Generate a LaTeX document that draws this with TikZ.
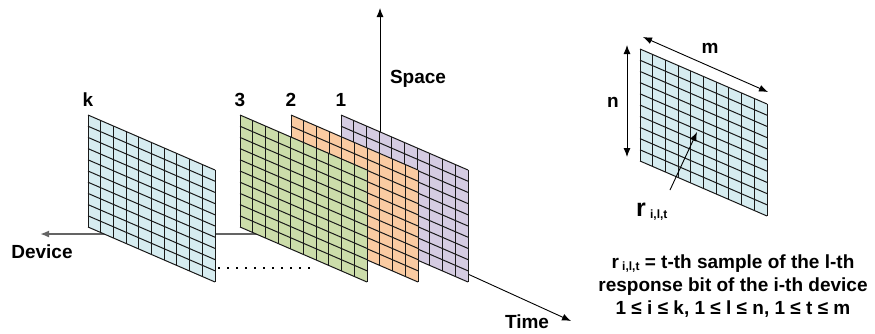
\documentclass[tikz,border=0pt]{standalone}
\usepackage{fontspec}
\setmainfont{Liberation Sans}
\usetikzlibrary{arrows.meta}
\definecolor{cblue}{RGB}{214,236,240}
\definecolor{cgreen}{RGB}{204,221,170}
\definecolor{corange}{RGB}{250,203,162}
\definecolor{cpurple}{RGB}{213,204,226}
\definecolor{axgray}{RGB}{100,100,100}
\tikzset{
  gridline/.style={draw=black!90, line width=1pt},
  lbl/.style={font=\fontsize{19}{23}\selectfont\bfseries, inner sep=0pt},
  tip/.style={-{Latex[length=9pt,width=7pt]}},
  dtip/.style={{Latex[length=9pt,width=7pt]}-{Latex[length=9pt,width=7pt]}},
}
\newcommand{\gridpanel}[3]{%
  \fill[#3] (#1,#2) -- ++(127,55) -- ++(0,112) -- ++(-127,-55) -- cycle;
  \foreach \i in {0,...,10} {\draw[gridline] (#1+\i*12.7,#2+\i*5.5) -- ++(0,112);}
  \foreach \j in {0,...,10} {\draw[gridline] (#1,#2+\j*11.2) -- ++(127,55);}
}
\begin{document}
\begin{tikzpicture}[x=1pt,y=-1pt]
\useasboundingbox (0,0) rectangle (875,333);
% axes
\coordinate (O) at (380,234);
\coordinate (spaceEnd) at (380,8);
\coordinate (deviceEnd) at (40,234);
\coordinate (timeEnd) at (571,321);
\draw[tip, line width=0.9pt, black] (O) -- (spaceEnd);
\draw[tip, line width=1.8pt, axgray] (O) -- (deviceEnd);
\draw[tip, line width=0.9pt, black] (O) -- (timeEnd);
% panels, back to front
\gridpanel{341}{115}{cpurple}
\gridpanel{291}{115}{corange}
\gridpanel{240}{115}{cgreen}
\gridpanel{88}{115}{cblue}
% dotted line
\coordinate (dotA) at (218,268);
\coordinate (dotB) at (314,268);
\draw[line width=2pt, dash pattern=on 2pt off 7pt] (dotA) -- (dotB);
% labels
\node[lbl] (space) at (418,79) {Space};
\node[lbl] (device) at (42,252) {Device};
\node[lbl] (time) at (527,322) {Time};
\node[lbl] (lk) at (88,100) {k};
\node[lbl] (l3) at (240,100) {3};
\node[lbl] (l2) at (291,100) {2};
\node[lbl] (l1) at (341,100) {1};
% right panel
\gridpanel{640}{49}{cblue}
\coordinate (nA) at (627,45);
\coordinate (nB) at (627,157);
\draw[dtip, line width=0.9pt] (nA) -- (nB);
\coordinate (mA) at (643,37);
\coordinate (mB) at (768,92);
\draw[dtip, line width=0.9pt] (mA) -- (mB);
\node[lbl] (ln) at (613,102) {n};
\node[lbl] (lm) at (710,48) {m};
\node[lbl, anchor=base west] (rlab) at (636,216) {\fontsize{25}{25}\selectfont r\,\raisebox{-2pt}{\fontsize{12}{12}\selectfont i,l,t}};
\coordinate (rA) at (670,190);
\coordinate (rB) at (697,132);
\draw[tip, line width=0.9pt] (rA) -- (rB);
\node[lbl, align=center] (desc) at (733,286) {r\,\raisebox{-2pt}{\fontsize{12}{12}\selectfont i,l,t} = t-th sample of the l-th\\response bit of the i-th device\\1 ≤ i ≤ k, 1 ≤ l ≤ n, 1 ≤ t ≤ m};
\end{tikzpicture}
\end{document}
